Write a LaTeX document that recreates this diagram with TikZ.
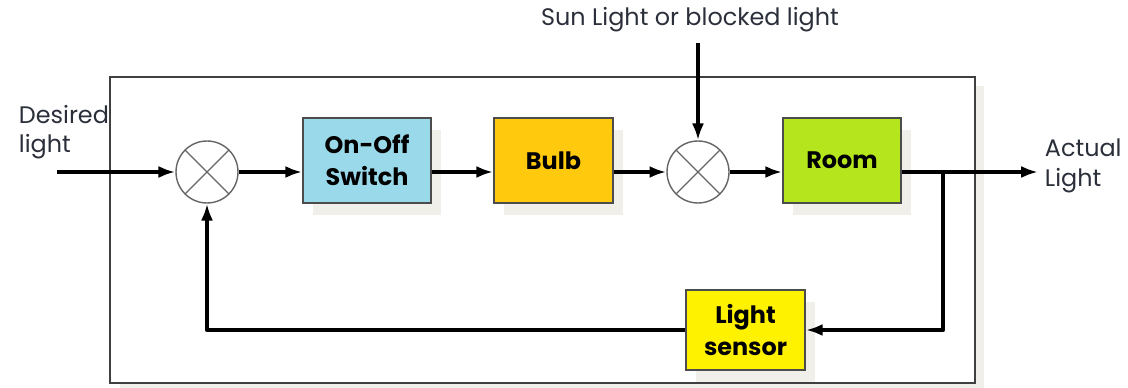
\documentclass[tikz,border=0pt]{standalone}
\usepackage{fontspec}
\setmainfont{Poppins}
\usetikzlibrary{arrows.meta, shadows}
\definecolor{sw-blue}{HTML}{99D9EA}
\definecolor{bulb-gold}{HTML}{FFC90E}
\definecolor{room-green}{HTML}{B5E61D}
\definecolor{sensor-yellow}{HTML}{FFF200}
\definecolor{shade-gray}{HTML}{F1EFEA}
\definecolor{label-ink}{HTML}{2B2F3A}

\begin{document}
\begin{tikzpicture}[>={Latex[length=0.42cm, width=0.3cm]},
      every node/.style={font=\fontsize{17}{21}\selectfont},
      blk/.style={draw=black!70, line width=1.2pt, align=center,
          font=\fontsize{17}{23}\selectfont\bfseries,
          minimum height=2.125cm,
          drop shadow={shadow xshift=0.25cm, shadow yshift=-0.3cm,
                       fill=shade-gray, opacity=1}},
      sumjn/.style={circle, draw=black!60, line width=1pt, fill=white,
          minimum size=1.55cm, inner sep=0pt,
          path picture={\draw[black!60, line width=0.8pt]
            (path picture bounding box.north west) --
            (path picture bounding box.south east)
            (path picture bounding box.south west) --
            (path picture bounding box.north east);}},
      sig/.style={->, line width=3pt},
      txt/.style={text=label-ink, align=left}]
    \useasboundingbox (0,0) rectangle (28.2,9.7);
    % outer frame with a light shadow on its right side
    \fill[shade-gray] (3.0,-0.1) rectangle (24.6,7.55);
    \draw[black!75, line width=0.9pt, fill=white] (2.75,0.125) rectangle (24.375,7.775);

    \node[sumjn] (S1) at (5.175,5.4) {};
    \node[sumjn] (S2) at (17.45,5.4) {};
    \node[blk, fill=sw-blue, minimum width=3.2cm] (SW) at (9.175,5.6875) {On-Off\\Switch};
    \node[blk, fill=bulb-gold, minimum width=2.975cm] (BU) at (13.8375,5.6875) {Bulb};
    \node[blk, fill=room-green, minimum width=2.95cm] (RM) at (21.05,5.6875) {Room};
    \node[blk, fill=sensor-yellow, minimum width=2.975cm,
          minimum height=2.0cm] (LS) at (18.6375,1.45) {Light\\sensor};

    \node[txt, anchor=west] (DL) at (0.35,6.4) {Desired\\light};
    \node[txt, anchor=west] (AL) at (26.0,5.55) {Actual\\Light};
    \node[txt] (SL) at (17.25,9.22) {Sun Light or blocked light};

    \coordinate (IN) at (1.425,5.4);
    \coordinate (OUT) at (25.95,5.4);
    \coordinate (BR) at (23.575,5.4);
    \coordinate (DS) at (17.45,8.625);

    % forward path (arrows run at the junction height, below the box centres)
    \draw[sig] (IN) -- (S1.west);
    \draw[sig] (S1.east) -- (SW.west |- S1.east);
    \draw[sig] (SW.east |- S1.east) -- (BU.west |- S1.east);
    \draw[sig] (BU.east |- S1.east) -- (S2.west);
    \draw[sig] (S2.east) -- (RM.west |- S2.east);
    \draw[sig] (RM.east |- S2.east) -- (OUT);
    \draw[sig] (DS) -- (S2.north);
    % feedback loop
    \draw[sig, line join=round] (BR) |- (LS.east);
    \draw[sig, line join=round] (LS.west) -| (S1.south);
  \end{tikzpicture}
\end{document}
